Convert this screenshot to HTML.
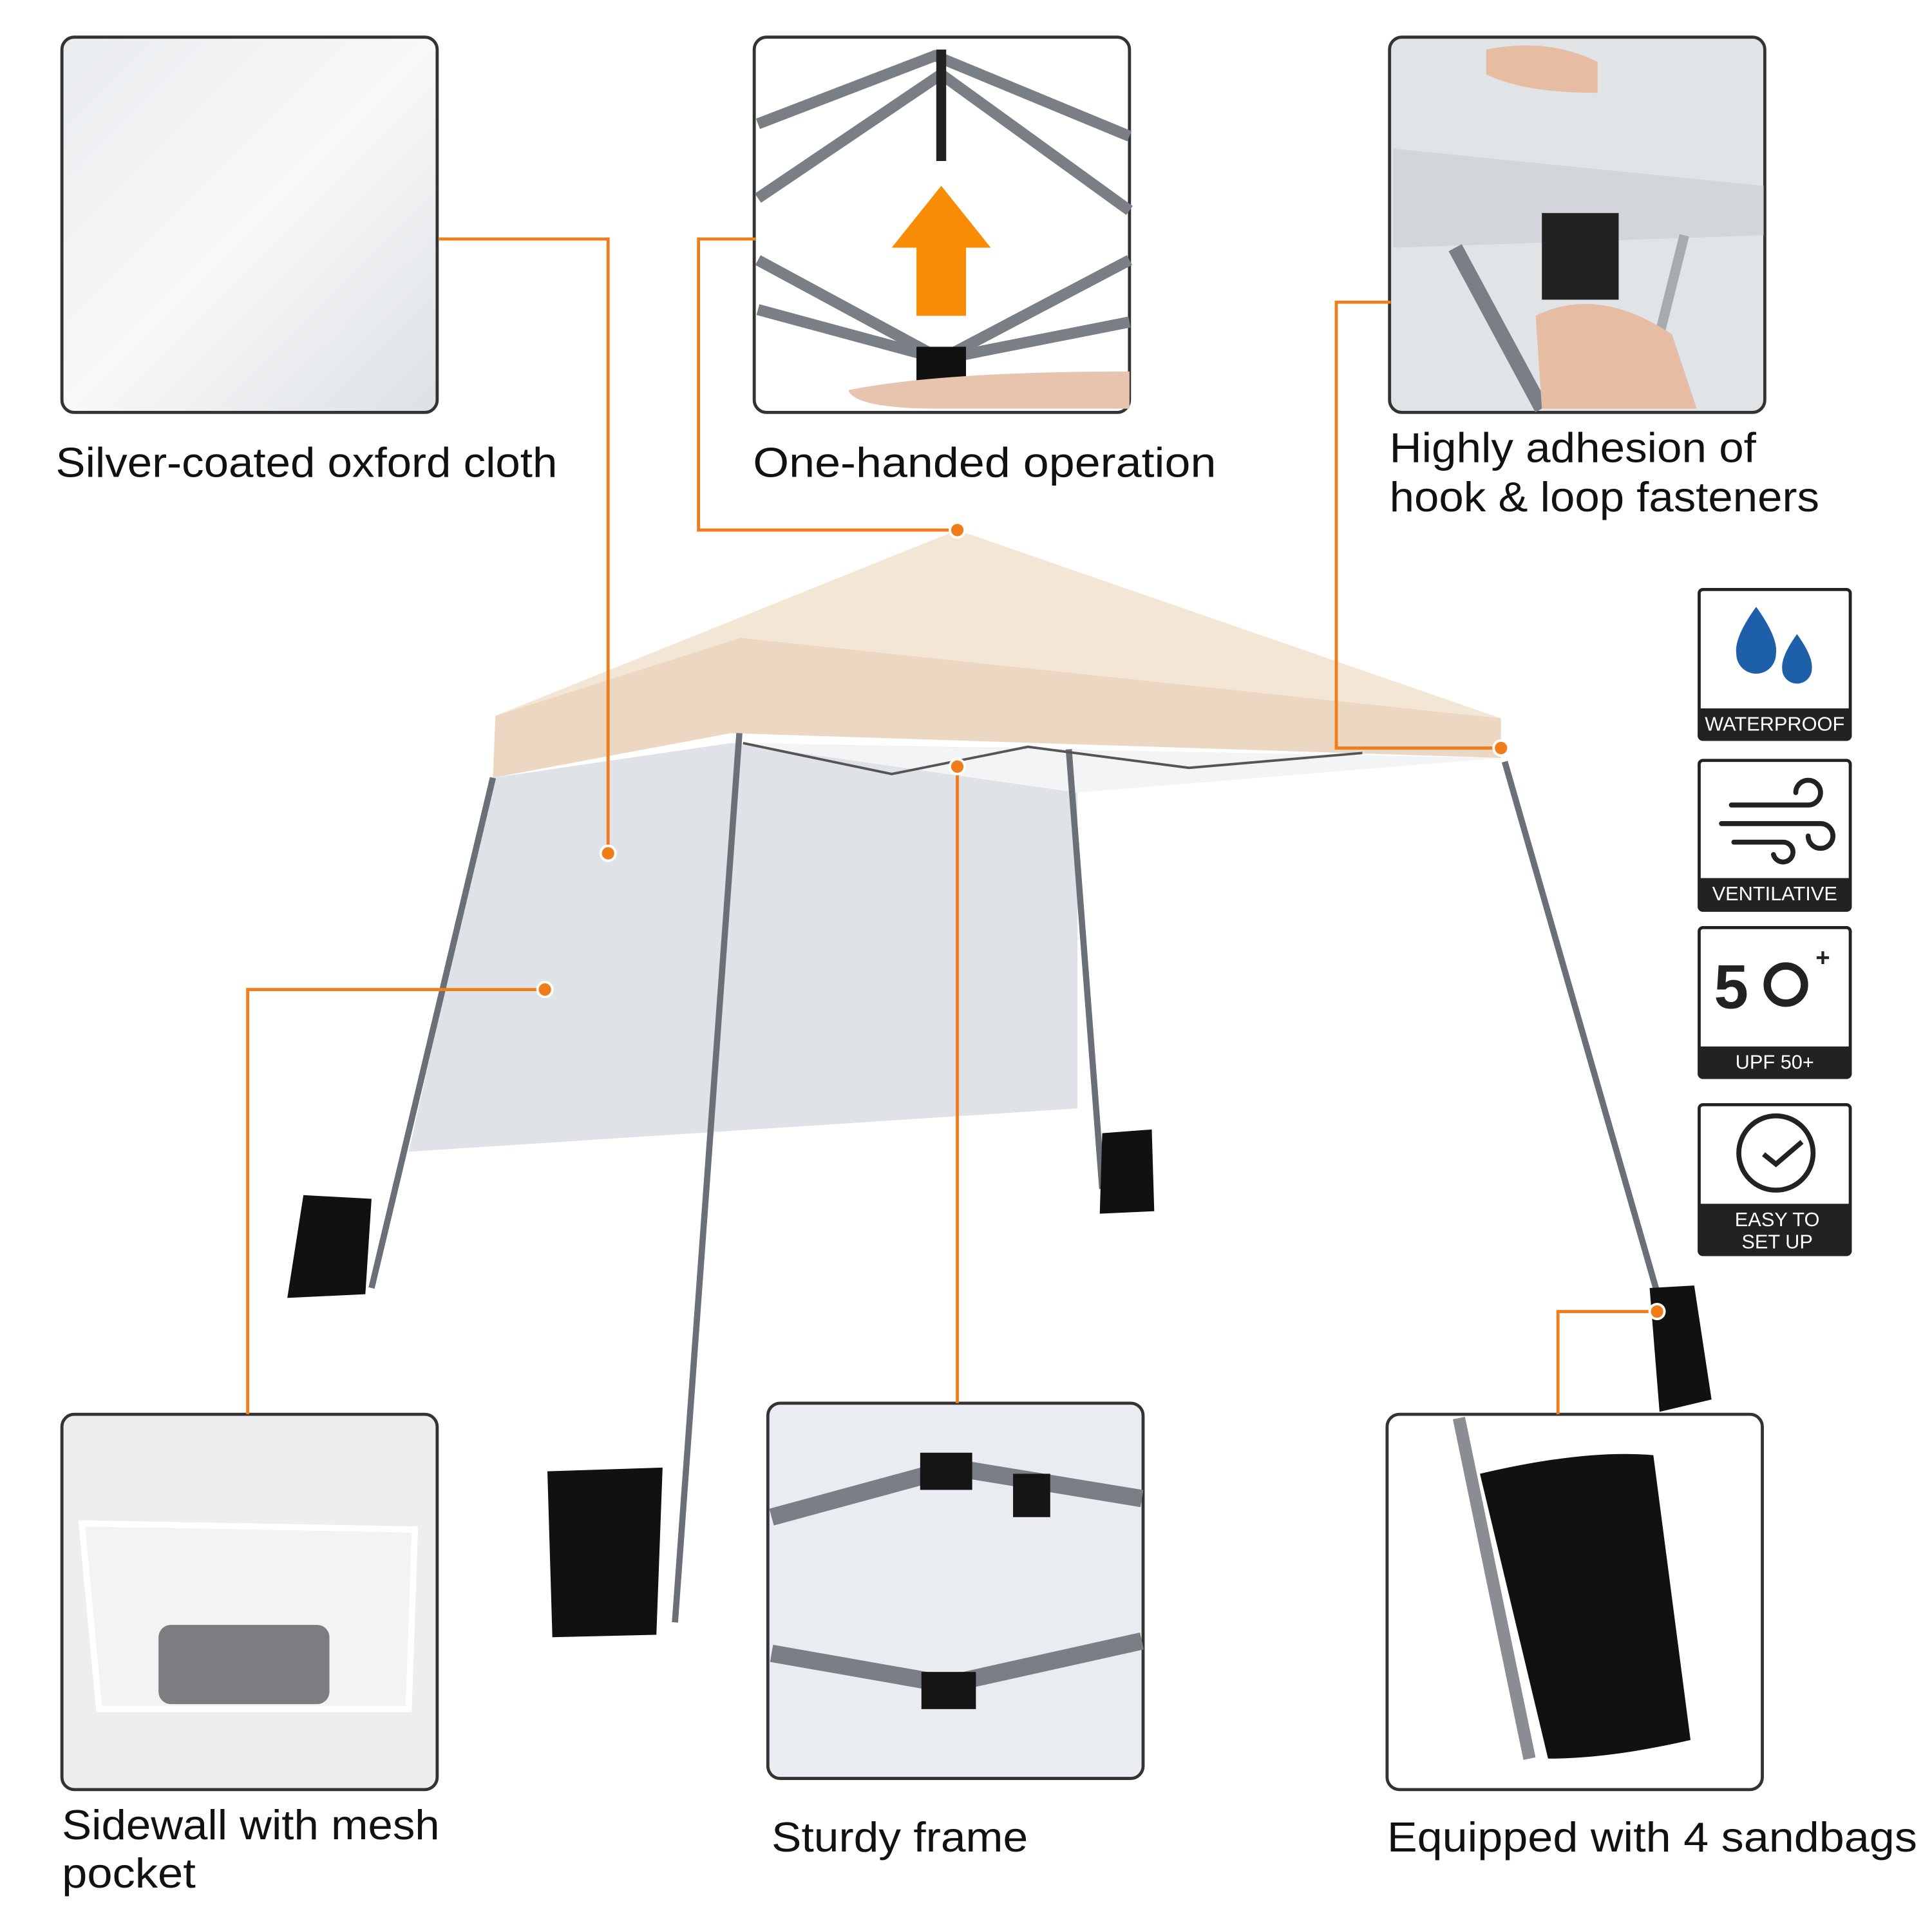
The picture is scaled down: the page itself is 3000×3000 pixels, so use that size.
<!DOCTYPE html>
<html><head><meta charset="utf-8"><style>html,body{margin:0;padding:0;background:#fff}svg{display:block}</style></head>
<body>
<svg width="3000" height="3000" viewBox="0 0 1560 1560" xmlns="http://www.w3.org/2000/svg" font-family="Liberation Sans, sans-serif">
<rect width="1560" height="1560" fill="#fff"/>
<defs>
<linearGradient id="cloth" x1="0" y1="0" x2="1" y2="1"><stop offset="0" stop-color="#e9ecef"/><stop offset=".5" stop-color="#f7f8f9"/><stop offset="1" stop-color="#dde1e5"/></linearGradient>
</defs>
<rect x="50" y="30" width="303" height="303" rx="10" fill="url(#cloth)" stroke="#333" stroke-width="2.5"/>
<rect x="609" y="30" width="303" height="303" rx="10" fill="#fff" stroke="#333" stroke-width="2.5"/>
<g stroke="#7a7f85" stroke-width="9" fill="none">
<path d="M612 100 L755 45 L912 110"/><path d="M612 160 L760 60 L912 170"/><path d="M612 210 L760 290 L912 210"/><path d="M612 250 L760 290 L912 260"/>
</g>
<rect x="756" y="40" width="8" height="90" fill="#222"/>
<path d="M720 200 L760 150 L800 200 L780 200 L780 255 L740 255 L740 200Z" fill="#f98c06"/>
<rect x="740" y="280" width="40" height="30" fill="#111"/>
<path d="M685 315 Q760 300 912 300 L912 330 L760 330 Q690 330 685 315Z" fill="#e8c3ad"/>
<rect x="1122" y="30" width="303" height="303" rx="10" fill="#e1e4e7" stroke="#333" stroke-width="2.5"/>
<path d="M1125 120 L1424 150 L1424 190 L1125 200Z" fill="#d2d6da"/>
<path d="M1175 200 L1245 330" stroke="#7a7f85" stroke-width="12"/>
<path d="M1360 190 L1335 290" stroke="#a7abb0" stroke-width="8"/>
<rect x="1245" y="172" width="62" height="70" fill="#222"/>
<path d="M1240 255 Q1290 230 1350 270 L1370 330 L1245 330Z" fill="#e6bca3"/>
<path d="M1200 40 Q1250 30 1290 50 L1290 75 Q1230 75 1200 60Z" fill="#e6bca3"/>
<rect x="50" y="1142" width="303" height="303" rx="10" fill="#eceef0" stroke="#333" stroke-width="2.5"/>
<path d="M66 1230 L335 1235 L330 1380 L80 1380Z" fill="#f2f3f4" stroke="#fff" stroke-width="5"/>
<rect x="128" y="1312" width="138" height="64" rx="10" fill="#7b7d80"/>
<rect x="620" y="1133" width="303" height="303" rx="10" fill="#e9ecf0" stroke="#333" stroke-width="2.5"/>
<path d="M623 1225 L770 1185 L922 1210" stroke="#7a7f85" stroke-width="14" fill="none"/>
<path d="M623 1335 L765 1360 L922 1325" stroke="#7a7f85" stroke-width="14" fill="none"/>
<rect x="743" y="1173" width="42" height="30" fill="#151515"/><rect x="818" y="1190" width="30" height="35" fill="#151515"/><rect x="744" y="1350" width="44" height="30" fill="#151515"/>
<rect x="1120" y="1142" width="303" height="303" rx="10" fill="#fff" stroke="#333" stroke-width="2.5"/>
<path d="M1178 1145 L1235 1420" stroke="#8a8e93" stroke-width="10"/>
<path d="M1195 1190 Q1280 1170 1335 1175 L1365 1405 Q1300 1420 1250 1420Z" fill="#111"/>
<path d="M398 628 L590 600 L870 605 L870 895 L330 930Z" fill="#dfe3e8"/>
<path d="M590 600 L1212 612 L870 640Z" fill="#f2f4f6"/>
<path d="M773 428 L1212 580 L598 515 L400 578Z" fill="#f4e6d4"/>
<path d="M400 578 L598 515 L1212 580 L1212 612 L590 592 L398 628Z" fill="#ecd8c2"/>
<g stroke="#6b7076" stroke-width="5" fill="none">
<path d="M398 628 L300 1040"/><path d="M597 592 L545 1310"/><path d="M863 605 L890 960"/><path d="M1215 615 L1360 1120"/>
</g>
<path d="M600 600 L720 625 L830 603 L960 620 L1100 608" stroke="#555" stroke-width="2" fill="none"/>
<g fill="#111">
<path d="M245 965 L300 968 L295 1045 L232 1048Z"/><path d="M442 1188 L535 1185 L530 1320 L446 1322Z"/><path d="M890 915 L930 912 L932 978 L888 980Z"/><path d="M1332 1040 L1368 1038 L1382 1130 L1340 1140Z"/>
</g>
<g stroke="#f07d1a" stroke-width="2.5" fill="none">
<path d="M354 193 H491 V689"/><path d="M610 193 H564 V428 H773"/><path d="M1123 244 H1079 V604 H1212"/><path d="M440 799 H200 V1142"/><path d="M773 619 V1133"/><path d="M1338 1059 H1258 V1142"/>
</g>
<g fill="#f07d1a" stroke="#fff" stroke-width="2">
<circle cx="491" cy="689" r="6"/><circle cx="773" cy="428" r="6"/><circle cx="1212" cy="604" r="6"/><circle cx="440" cy="799" r="6"/><circle cx="773" cy="619" r="6"/><circle cx="1338" cy="1059" r="6"/>
</g>
<g font-size="34" fill="#111" lengthAdjust="spacingAndGlyphs">
<text x="45" y="385" textLength="405" lengthAdjust="spacingAndGlyphs">Silver-coated oxford cloth</text>
<text x="608" y="385" textLength="374" lengthAdjust="spacingAndGlyphs">One-handed operation</text>
<text x="1122" y="373" textLength="296" lengthAdjust="spacingAndGlyphs">Highly adhesion of</text>
<text x="1122" y="413" textLength="347" lengthAdjust="spacingAndGlyphs">hook &amp; loop fasteners</text>
<text x="50" y="1485" textLength="305" lengthAdjust="spacingAndGlyphs">Sidewall with mesh</text>
<text x="50" y="1524" textLength="108" lengthAdjust="spacingAndGlyphs">pocket</text>
<text x="623" y="1495" textLength="207" lengthAdjust="spacingAndGlyphs">Sturdy frame</text>
<text x="1120" y="1495" textLength="428" lengthAdjust="spacingAndGlyphs">Equipped with 4 sandbags</text>
</g>
<g stroke="#222" stroke-width="2.5" fill="#fff">
<rect x="1372" y="476" width="122" height="121" rx="3"/><rect x="1372" y="614" width="122" height="121" rx="3"/><rect x="1372" y="749" width="122" height="121" rx="3"/><rect x="1372" y="892" width="122" height="121" rx="3"/>
</g>
<g fill="#222"><rect x="1372" y="572" width="122" height="25"/><rect x="1372" y="709" width="122" height="26"/><rect x="1372" y="845" width="122" height="25"/><rect x="1372" y="972" width="122" height="41"/></g>
<g fill="#fff" font-size="16" text-anchor="middle">
<text x="1433" y="590">WATERPROOF</text><text x="1433" y="727">VENTILATIVE</text><text x="1433" y="863">UPF 50+</text><text x="1435" y="990">EASY TO</text><text x="1435" y="1008">SET UP</text>
</g>
<path d="M1418 490 Q1400 515 1402 528 A16 16 0 0 0 1434 528 Q1436 515 1418 490Z" fill="#1d5fa8"/>
<path d="M1451 512 Q1438 530 1439 540 A12 12 0 0 0 1463 540 Q1464 530 1451 512Z" fill="#1d5fa8"/>
<g stroke="#222" stroke-width="4" fill="none" stroke-linecap="round">
<path d="M1398 650 H1460 A10 10 0 1 0 1450 640"/><path d="M1390 665 H1470 A10 10 0 1 1 1460 675"/><path d="M1400 680 H1440 A8 8 0 1 1 1432 690"/>
</g>
<text x="1384" y="814" font-size="50" font-weight="bold" fill="#222">5</text>
<circle cx="1442" cy="795" r="15" fill="none" stroke="#222" stroke-width="6"/>
<text x="1466" y="780" font-size="20" font-weight="bold" fill="#222">+</text>
<circle cx="1434" cy="931" r="30" fill="none" stroke="#222" stroke-width="4"/>
<path d="M1424 932 L1434 940 L1455 922" stroke="#222" stroke-width="4" fill="none"/>
</svg>
</body></html>
